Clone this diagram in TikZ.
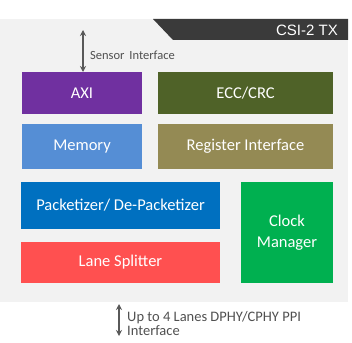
\documentclass[tikz,border=0pt]{standalone}
\usepackage{fontspec}
\setmainfont{Carlito}
\newfontfamily\arialf{Liberation Sans}
\usetikzlibrary{arrows.meta}
\definecolor{bgray}{HTML}{F2F2F2}
\definecolor{tabc}{HTML}{3A3A3A}
\definecolor{arrc}{HTML}{595959}
\definecolor{cAXI}{HTML}{7030A0}
\definecolor{cECC}{HTML}{4F6228}
\definecolor{cMem}{HTML}{558ED5}
\definecolor{cReg}{HTML}{948A54}
\definecolor{cPkt}{HTML}{0070C0}
\definecolor{cClk}{HTML}{00B050}
\definecolor{cLane}{HTML}{FF5050}
\begin{document}
\begin{tikzpicture}[x=1pt,y=-1pt,
  blk/.style={draw=none,text=white,font=\fontsize{16.5}{21}\selectfont,align=center,inner sep=0pt},
  biarrow/.style={{Stealth[length=6pt,width=6pt]}-{Stealth[length=6pt,width=6pt]},draw=arrc,line width=1.3pt},
  lbl/.style={text=arrc!90!black,font=\fontsize{12.5}{14}\selectfont,anchor=west,inner sep=0pt,align=left}]
\useasboundingbox (0,0) rectangle (352,342);
\fill[bgray] (0,19) rectangle (348,302);
\fill[tabc] (153,19) -- (348,19) -- (348,40) -- (173,40) -- cycle;
\node[text=white,font=\arialf\fontsize{15}{17}\selectfont,anchor=east,inner sep=0pt] (title) at (338,30) {CSI-2 TX};
\fill[cAXI] (22,72) rectangle (142,114);
\node[blk] (axi) at (82,93) {AXI};
\fill[cECC] (158,72) rectangle (333,114);
\node[blk] (ecc) at (245.5,93) {ECC/CRC};
\fill[cMem] (22,124) rectangle (142,169);
\node[blk] (mem) at (82,146.5) {Memory};
\fill[cReg] (158,124) rectangle (333,169);
\node[blk] (reg) at (245.5,146.5) {Register Interface};
\fill[cPkt] (21,182) rectangle (220,229);
\node[blk] (pkt) at (120.5,205.5) {Packetizer/ De-Packetizer};
\fill[cClk] (241,182) rectangle (333,283);
\node[blk] (clk) at (287,232.5) {Clock\\Manager};
\fill[cLane] (21,242) rectangle (220,283);
\node[blk] (lane) at (120.5,262.5) {Lane Splitter};
\coordinate (s1) at (83,30);
\coordinate (s2) at (83,72);
\draw[biarrow] (s1) -- (s2);
\node[lbl] (slbl) at (90,55) {Sensor\, Interface};
\coordinate (b1) at (119,304);
\coordinate (b2) at (119,336);
\draw[biarrow] (b1) -- (b2);
\node[lbl,font=\fontsize{14.5}{14}\selectfont] (blbl) at (127,324) {Up to 4 Lanes DPHY/CPHY PPI\\Interface};
\end{tikzpicture}
\end{document}
